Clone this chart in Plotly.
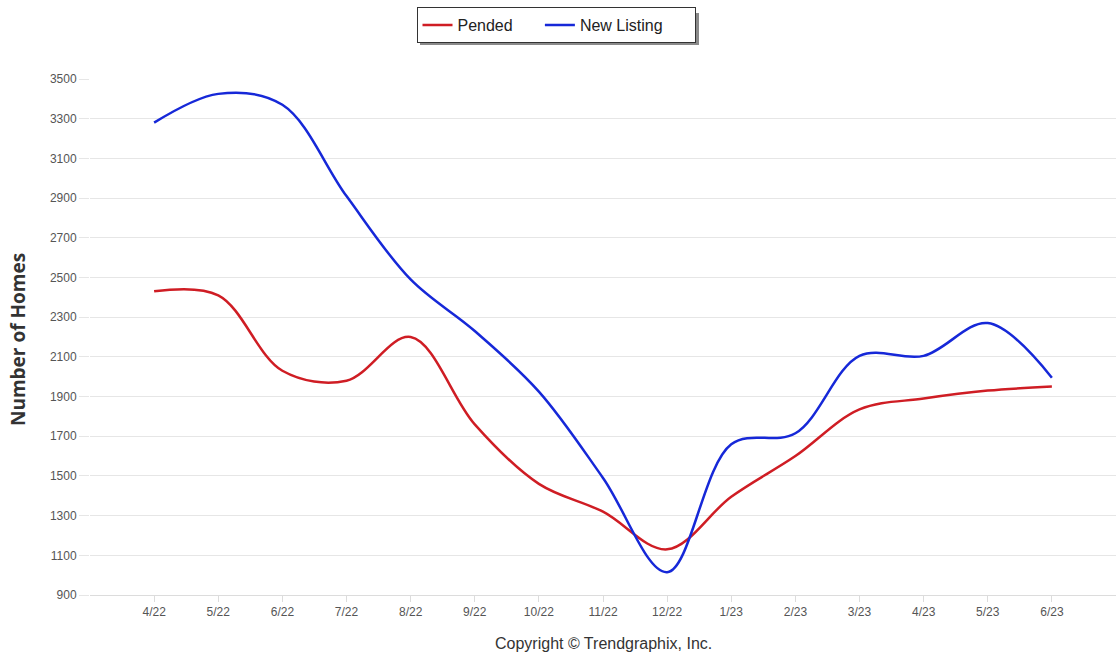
import plotly.graph_objects as go

# Monthly counts of homes
months = ["4/22", "5/22", "6/22", "7/22", "8/22", "9/22", "10/22", "11/22",
          "12/22", "1/23", "2/23", "3/23", "4/23", "5/23", "6/23"]
pended = [2430, 2410, 2030, 1980, 2200, 1760, 1460, 1320, 1130, 1395, 1600, 1835, 1890, 1930, 1950]
new_listing = [3280, 3425, 3370, 2910, 2490, 2230, 1925, 1490, 1015, 1660, 1715, 2105, 2105, 2270, 1995]
y_ticks = list(range(900, 3501, 200))

W, H = 1116, 652
ML, MR, MT, MB = 90, 0, 79, 57
plot_w = W - ML - MR
plot_h = H - MT - MB

def px_x(p):
    return (p - ML) / plot_w

def px_y(p):
    return 1 - (p - MT) / plot_h

xs = list(range(len(months)))
NB = "\u00a0"

fig = go.Figure()
fig.add_trace(go.Scatter(
    x=xs, y=pended, name="Pended" + NB * 5, mode="lines",
    line=dict(color="#cf1d24", width=2.5, shape="spline", smoothing=1.0),
))
fig.add_trace(go.Scatter(
    x=xs, y=new_listing, name="New Listing" + NB * 6, mode="lines",
    line=dict(color="#1628d8", width=2.5, shape="spline", smoothing=1.0),
))

# legend drop shadow
fig.add_shape(type="rect", xref="paper", yref="paper",
              x0=px_x(420), x1=px_x(699), y0=px_y(45), y1=px_y(13),
              fillcolor="#8a8a8a", line=dict(width=0), layer="above")

fig.update_layout(
    width=W, height=H,
    margin=dict(l=ML, r=MR, t=MT, b=MB),
    paper_bgcolor="white", plot_bgcolor="white",
    font=dict(family="Liberation Sans, Arial, sans-serif", color="#444"),
    showlegend=True,
    legend=dict(
        orientation="h", xref="container", yref="container",
        x=556 / W, xanchor="center", y=1 - 7 / H, yanchor="top",
        bgcolor="white", bordercolor="#333", borderwidth=1,
        font=dict(family="Liberation Sans, Arial, sans-serif", size=16, color="#222"),
        traceorder="normal",
    ),
    xaxis=dict(
        range=[-1, 15], tickmode="array", tickvals=xs, ticktext=months,
        showgrid=False, zeroline=False, showline=True, linecolor="#dcdcdc",
        ticks="outside", ticklen=6, tickcolor="#dcdcdc",
        tickfont=dict(family="Liberation Sans Narrow, Liberation Sans, Arial", size=12, color="#555"),
        fixedrange=True,
    ),
    yaxis=dict(
        range=[900, 3500], tickmode="array", tickvals=y_ticks,
        showgrid=True, gridcolor="#e6e6e6", gridwidth=1, zeroline=False,
        ticks="outside", ticklen=10, tickcolor="#e6e6e6",
        tickfont=dict(family="Liberation Sans Narrow, Liberation Sans, Arial", size=12, color="#555"),
        fixedrange=True,
    ),
    annotations=[
        dict(text="<b>Number of Homes</b>", textangle=-90, xref="paper", yref="paper",
             x=px_x(18), y=px_y(340), xanchor="center", yanchor="middle", showarrow=False,
             font=dict(family="Open Sans, sans-serif", size=19, color="#333")),
        dict(text="Copyright © Trendgraphix, Inc.", xref="paper", yref="paper",
             x=px_x(603), y=px_y(643), xanchor="center", yanchor="middle", showarrow=False,
             font=dict(family="Liberation Sans, Arial, sans-serif", size=16, color="#333")),
    ],
)

fig.write_html("out.html")
